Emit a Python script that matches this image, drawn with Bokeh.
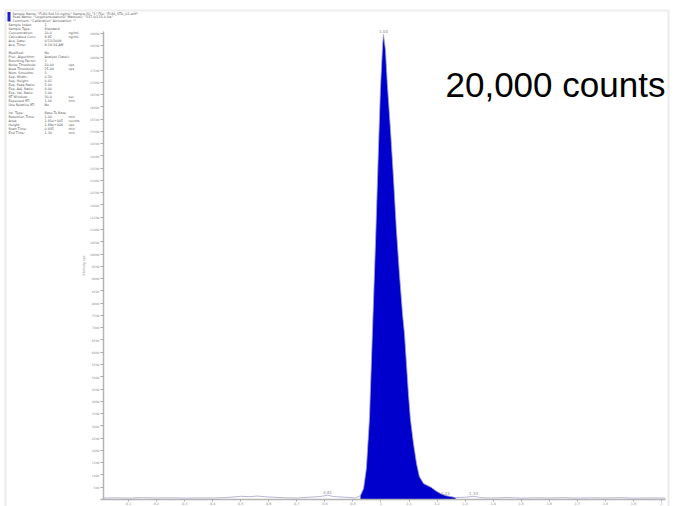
from bokeh.plotting import figure
from bokeh.models import Label, Range1d, FixedTicker, PolyAnnotation, ColumnDataSource
from bokeh.embed import file_html
from bokeh.resources import INLINE

# ---------------- data ----------------
trace_time = [0.011, 0.05, 0.10, 0.15, 0.20, 0.25, 0.30, 0.35, 0.40, 0.45, 0.48, 0.50, 0.53,
              0.56, 0.59, 0.62, 0.66, 0.70, 0.74, 0.77, 0.79, 0.81, 0.83, 0.86, 0.89, 0.909,
              0.927, 0.938, 0.948, 0.959, 0.970, 0.981, 0.991, 0.998, 1.006, 1.009, 1.016,
              1.023, 1.034, 1.045, 1.055, 1.066, 1.077, 1.084, 1.091, 1.098, 1.105, 1.116,
              1.127, 1.137, 1.152, 1.166, 1.180, 1.194, 1.212, 1.230, 1.248, 1.266,
              1.30, 1.33, 1.36, 1.40, 1.45, 1.50, 1.55, 1.60, 1.65, 1.70, 1.75, 1.80,
              1.85, 1.90, 1.95, 2.00, 2.014]
trace_counts = [60, 70, 55, 75, 60, 70, 55, 65, 60, 80, 110, 130, 115,
                140, 110, 90, 70, 60, 90, 110, 130, 180, 120, 100, 80, 60,
                160, 450, 1260, 3300, 6950, 10600, 14270, 16700, 18540, 18950, 18330,
                16900, 15080, 13050, 11020, 9190, 7560, 6750, 5530, 4310, 3290, 2280,
                1460, 935, 650, 570, 490, 365, 245, 160, 120, 80,
                90, 130, 70, 60, 80, 55, 70, 60, 75, 55, 70, 60,
                75, 55, 65, 60, 55]
peak_start = 0.927
peak_end = 1.266

x_ticks = [0.1, 0.2, 0.3, 0.4, 0.5, 0.6, 0.7, 0.8, 0.9, 1.0,
           1.1, 1.2, 1.3, 1.4, 1.5, 1.6, 1.7, 1.8, 1.9, 2.0]
y_ticks = [500, 1000, 1500, 2000, 2500, 3000, 3500, 4000, 4500, 5000,
           5500, 6000, 6500, 7000, 7500, 8000, 8500, 9000, 9500, 10000,
           10500, 11000, 11500, 12000, 12500, 13000, 13500, 14000, 14500, 15000,
           15500, 16000, 16500, 17000, 17500, 18000, 18500, 19000]

peak_label_time = [0.81, 1.009, 1.23, 1.33]
peak_label_counts = [180, 18950, 160, 130]
peak_label_text = ["0.81", "1.00", "1.23", "1.33"]

header_lines = [
    'Sample Name: "FL80 Std 10 ng/mL"  Sample ID: "1"  File: "FL80_STD_01.wiff"',
    'Peak Name: "Oxyphenbutazone"  Mass(es): "337.0/133.0 Da"',
    'Comment: "Calibration"  Annotation: ""',
]
info_keys = ["Sample Index:", "Sample Type:", "Concentration:", "Calculated Conc:",
             "Acq. Date:", "Acq. Time:", "",
             "Modified:", "Proc. Algorithm:", "Bunching Factor:", "Noise Threshold:",
             "Area Threshold:", "Num. Smooths:", "Sep. Width:", "Sep. Height:",
             "Exp. Peak Ratio:", "Exp. Adj. Ratio:", "Exp. Val. Ratio:", "RT Window:",
             "Expected RT:", "Use Relative RT:", "",
             "Int. Type:", "Retention Time:", "Area:", "Height:", "Start Time:", "End Time:"]
info_values = ["1", "Standard", "10.0", "9.95", "6/13/2009", "8:14:14 AM", "",
               "No", "Analyst Classic", "3", "10.00", "25.00", "3", "0.20", "0.01",
               "5.00", "4.00", "3.00", "30.0", "1.00", "No", "",
               "Base To Base", "1.00", "1.91e+005", "1.89e+004", "0.935", "1.30"]
info_units = ["", "", "ng/mL", "ng/mL", "", "", "",
              "", "", "", "cps", "cps", "", "", "",
              "", "", "", "sec", "min", "", "",
              "", "min", "counts", "cps", "min", "min"]

# ---------------- layout ----------------
W, H = 681, 506
PX_PER_MIN = 280.5          # 0.1 min -> x=128 px, 2.0 min -> x=661 px
BASE_Y = 499                # 0 counts
COUNTS_PER_PX = 19000 / (BASE_Y - 32.7)

x_start = 0.1 - 128 / PX_PER_MIN
x_end = x_start + W / PX_PER_MIN
y_start = -(H - BASE_Y) * COUNTS_PER_PX
y_end = BASE_Y * COUNTS_PER_PX
axis_t = 0.1 - 25 / PX_PER_MIN       # y-axis at x=103 px


def sx(px):
    return px


def sy(py):
    return H - py


p = figure(width=W, height=H, output_backend="svg", toolbar_location=None,
           x_range=Range1d(x_start, x_end), y_range=Range1d(y_start, y_end),
           min_border=0, min_border_left=0, min_border_right=0,
           min_border_top=0, min_border_bottom=0)
p.outline_line_color = None
p.grid.visible = False
p.background_fill_color = "white"
p.border_fill_color = "white"

axis_grey = "#b4b4b4"
for ax in (p.xaxis, p.yaxis):
    ax.axis_line_color = axis_grey
    ax.axis_line_width = 1.5
    ax.major_tick_line_color = "#a8a8a8"
    ax.major_tick_in = 0
    ax.minor_tick_line_color = None
    ax.major_label_text_color = "#8a8a8a"
    ax.major_label_text_font = "DejaVu Sans"

p.xaxis.fixed_location = 0
p.xaxis.bounds = (x_start + 100 / PX_PER_MIN, 2.0 + 4 / PX_PER_MIN)
p.xaxis.ticker = FixedTicker(ticks=x_ticks)
p.xaxis.major_label_text_font_size = "3.4px"
p.xaxis.major_tick_out = 2
p.xaxis.major_label_standoff = 0

p.yaxis.fixed_location = axis_t
p.yaxis.bounds = (0, 19050)
p.yaxis.ticker = FixedTicker(ticks=y_ticks)
p.yaxis.major_tick_out = 3
p.yaxis.major_label_standoff = 1
p.yaxis.major_label_text_font_size = "3px"
p.yaxis.axis_label = "Intensity, cps"
p.yaxis.axis_label_text_font_size = "3.5px"
p.yaxis.axis_label_text_font_style = "normal"
p.yaxis.axis_label_text_color = "#8a8a8a"
p.yaxis.axis_label_standoff = 1

# chromatogram trace
src = ColumnDataSource(dict(t=trace_time, c=trace_counts))
fill_t = [t for t in trace_time if peak_start <= t <= peak_end]
fill_c = [c for t, c in zip(trace_time, trace_counts) if peak_start <= t <= peak_end]
fill_src = ColumnDataSource(dict(t=fill_t, c=fill_c, z=[0] * len(fill_t)))
p.varea(x="t", y1="z", y2="c", source=fill_src, fill_color="#0000cc")
p.line(x="t", y="c", source=src, line_color="#a3a3cc", line_width=0.8)

# peak retention time labels
for t, c, s in zip(peak_label_time, peak_label_counts, peak_label_text):
    p.add_layout(Label(x=t, y=c, text=s, text_font_size="4px", text_color="#8a8a8a",
                       text_align="center", text_baseline="bottom", y_offset=1,
                       text_font="DejaVu Sans"))

# page border (report frame)
p.add_layout(PolyAnnotation(xs=[sx(5), sx(668), sx(668), sx(5)],
                            ys=[sy(10), sy(10), sy(540), sy(540)],
                            xs_units="screen", ys_units="screen",
                            fill_alpha=0, line_color="#c4c4c4", line_width=2.2))
# blue marker in header
p.add_layout(PolyAnnotation(xs=[sx(7), sx(10), sx(10), sx(7)],
                            ys=[sy(11.5), sy(11.5), sy(21), sy(21)],
                            xs_units="screen", ys_units="screen",
                            fill_color="#1f1fd0", fill_alpha=1, line_color=None))

# header text
for i, line in enumerate(header_lines):
    p.add_layout(Label(x=sx(12), y=sy(13 + 3.6 * i), x_units="screen", y_units="screen",
                       text=line, text_font_size="3.3px", text_color="#555555",
                       text_baseline="middle", text_font="DejaVu Sans"))
for i, (k, v, u) in enumerate(zip(info_keys, info_values, info_units)):
    y = sy(24 + 4 * i)
    if k:
        p.add_layout(Label(x=sx(8), y=y, x_units="screen", y_units="screen", text=k,
                           text_font_size="3.3px", text_color="#555555",
                           text_baseline="middle", text_font="DejaVu Sans"))
    if v:
        p.add_layout(Label(x=sx(44), y=y, x_units="screen", y_units="screen", text=v,
                           text_font_size="3.3px", text_color="#555555",
                           text_baseline="middle", text_font="DejaVu Sans"))
    if u:
        p.add_layout(Label(x=sx(68), y=y, x_units="screen", y_units="screen", text=u,
                           text_font_size="3.3px", text_color="#555555",
                           text_baseline="middle", text_font="DejaVu Sans"))

# annotation
p.add_layout(Label(x=sx(445), y=sy(84), x_units="screen", y_units="screen",
                   text="20,000 counts", text_font_size="35px", text_color="black",
                   text_baseline="alphabetic", text_font="Liberation Sans"))

open("out.html", "w").write(file_html(p, INLINE))
